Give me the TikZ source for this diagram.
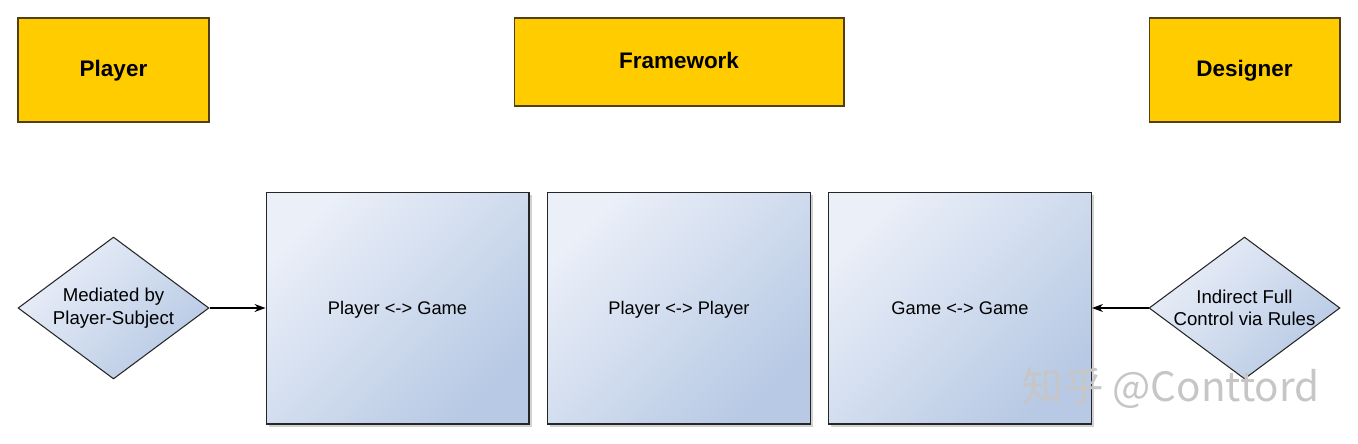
\documentclass[tikz,border=0pt]{standalone}
\usepackage{fontspec}
\setmainfont{Liberation Sans}
\newfontfamily\cjkfont{Noto Sans CJK SC}
\usepackage{tikz}
\usetikzlibrary{arrows.meta, positioning, shapes.geometric, shadows}
\usepackage{xcolor}
\definecolor{gold}{RGB}{255,204,0}
\definecolor{goldedge}{RGB}{80,62,20}
\definecolor{paleblue}{RGB}{234,239,248}
\definecolor{steelblue}{RGB}{183,201,228}

\begin{document}
\begin{tikzpicture}[x=0.02cm, y=-0.02cm,
  role/.style={draw=goldedge, fill=gold, line width=0.6pt, text height=1.5ex, text depth=0pt,
    font=\bfseries\fontsize{12.8}{15}\selectfont},
  panel/.style={draw=black!85, line width=0.6pt, left color=paleblue, right color=steelblue, shading angle=45,
    minimum width=5.26cm, minimum height=4.64cm, drop shadow={shadow xshift=1.5pt, shadow yshift=-1.5pt, opacity=0.3, fill=black!60},
    text height=1.5ex, text depth=0pt, font=\fontsize{10.4}{12.5}\selectfont},
  mode/.style={diamond, aspect=1.35, draw=black!85, line width=0.6pt, left color=paleblue, right color=steelblue, shading angle=45,
    minimum width=3.82cm, minimum height=2.84cm, inner sep=0pt, align=center, font=\fontsize{10.6}{12.8}\selectfont},
  link/.style={-{Stealth[length=2.2mm, width=1.6mm]}, line width=0.6pt}]
  \useasboundingbox (0,0) rectangle (1358,443);

  % Roles
  \node[role, minimum width=3.82cm, minimum height=2.08cm] (player) at (113.5,70) {Player};
  \node[role, minimum width=6.6cm, minimum height=1.76cm] (framework) at (679,62) {Framework};
  \node[role, minimum width=3.82cm, minimum height=2.08cm] (designer) at (1244.5,70) {Designer};

  % Interaction panels
  \node[panel] (pg) at (397.5,308) {Player <-> Game};
  \node[panel] (pp) at (679,308) {Player <-> Player};
  \node[panel] (gg) at (960,308) {Game <-> Game};

  % Control modes
  \node[mode] (mediated) at (113.5,308) {Mediated by\\Player-Subject};
  \node[mode] (indirect) at (1244.5,308) {Indirect Full\\Control via Rules};

  \draw[link] (mediated.east) -- (pg.west);
  \draw[link] (indirect.west) -- (gg.east);

  % Watermark
  \node[text=gray!45, font=\cjkfont\fontsize{23}{25}\selectfont] (mark) at (1171,388) {知乎 @Conttord};
\end{tikzpicture}
\end{document}
